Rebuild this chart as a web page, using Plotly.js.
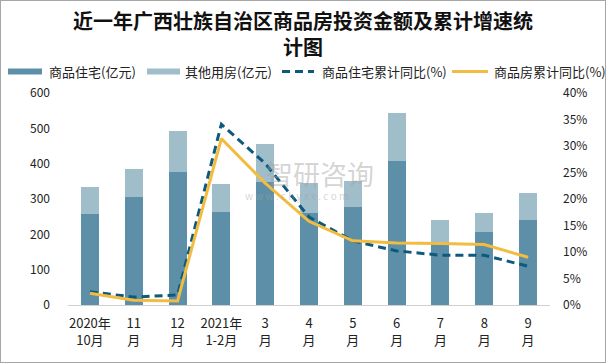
<!DOCTYPE html>
<html>
<head>
<meta charset="utf-8">
<script src="https://cdn.plot.ly/plotly-3.0.1.min.js"></script>
<style>
html,body{margin:0;padding:0;background:#fff;}
#wrap{position:relative;width:606px;height:363px;}
#chart{width:606px;height:363px;}
#frame{position:absolute;left:0;top:0;width:604px;height:361px;border:1px solid #a6a6a6;pointer-events:none;}
</style>
</head>
<body>
<div id="wrap"><div id="chart"></div><div id="frame"></div></div>
<script>
var categories = ["2020年<br>10月","11<br>月","12<br>月","2021年<br>1-2月","3<br>月","4<br>月","5<br>月","6<br>月","7<br>月","8<br>月","9<br>月"];
var residential = [257, 305, 376, 263, 349, 261, 277, 407, 176, 206, 240];
var otherUse = [76, 79, 116, 79, 106, 85, 73, 136, 64, 54, 77];
var residentialGrowth = [2.5, 1.5, 1.9, 34.1, 26.7, 16.6, 12.1, 10.2, 9.4, 9.4, 7.3];
var totalGrowth = [2.2, 0.9, 0.75, 31.4, 23.0, 15.8, 12.1, 11.7, 11.6, 11.4, 9.0];
var seriesNames = ['商品住宅(亿元)', '其他用房(亿元)', '商品住宅累计同比(%)', '商品房累计同比(%)'];
var leftTicks = [0,100,200,300,400,500,600];
var rightTicks = [0,5,10,15,20,25,30,35,40];

var colors = ['#5d90a8', '#a0bdca', '#0c5a7c', '#f2bc40'];
var font = "'Noto Sans CJK SC','Noto Sans',sans-serif";

// plot area geometry (pixels) for placing the hand-made legend
var L = 68, R = 550, T = 93, B = 305;
function px(p){ return (p - L) / (R - L); }
function py(p){ return (B - p) / (B - T); }

var traces = [
  {type:'bar', name:seriesNames[0], x:categories, y:residential, marker:{color:colors[0]}, width:0.41},
  {type:'bar', name:seriesNames[1], x:categories, y:otherUse, marker:{color:colors[1]}, width:0.41},
  {type:'scatter', mode:'lines', name:seriesNames[2], x:categories, y:residentialGrowth, yaxis:'y2',
   line:{color:colors[2], width:3, dash:'8px,5px'}},
  {type:'scatter', mode:'lines', name:seriesNames[3], x:categories, y:totalGrowth, yaxis:'y2',
   line:{color:colors[3], width:3}}
];

// legend (drawn manually to match the wide swatches of the reference)
var legendItems = [
  {kind:'bar',  x0:8,   x1:42,  tx:47},
  {kind:'bar',  x0:147, x1:180, tx:183},
  {kind:'dash', x0:282, x1:314, tx:320},
  {kind:'line', x0:452, x1:488, tx:492}
];
var legY = 71.5;
var shapes = [], annotations = [];
legendItems.forEach(function(it, i){
  if (it.kind === 'bar') {
    shapes.push({type:'rect', xref:'paper', yref:'paper', x0:px(it.x0), x1:px(it.x1), y0:py(legY+3), y1:py(legY-3),
      fillcolor:colors[i], line:{width:0}});
  } else {
    shapes.push({type:'line', xref:'paper', yref:'paper', x0:px(it.x0), x1:px(it.x1), y0:py(legY), y1:py(legY),
      line:{color:colors[i], width:3, dash: it.kind === 'dash' ? '8px,5px' : 'solid'}});
  }
  annotations.push({text:seriesNames[i], xref:'paper', yref:'paper', x:px(it.tx), y:py(legY), xanchor:'left', yanchor:'middle',
    showarrow:false, font:{size:13, color:'#222'}});
});
annotations.push({text:'智研咨询', xref:'paper', yref:'paper', x:px(320), y:py(173), showarrow:false,
  font:{size:27, color:'rgba(160,160,160,0.45)'}});
annotations.push({text:'w w w . c h y x x . c o m', xref:'paper', yref:'paper', x:px(296), y:py(195), showarrow:false,
  font:{size:10, color:'rgba(160,160,160,0.45)'}});

var layout = {
  width:606, height:363,
  margin:{l:L, r:606-R, t:T, b:363-B},
  barmode:'stack',
  paper_bgcolor:'#fff', plot_bgcolor:'#fff',
  font:{family:font, size:12, color:'#222'},
  title:{text:'<b>近一年广西壮族自治区商品房投资金额及累计增速统<br>计图</b>', x:0.5, xanchor:'center', y:0.92, yanchor:'top',
    font:{family:font, size:20, color:'#111'}},
  showlegend:false,
  xaxis:{type:'category', showline:true, linecolor:'#d0d0d0', linewidth:1, ticks:'', tickfont:{size:13}, showgrid:false,
    ticklabelstandoff:6},
  yaxis:{range:[0,600], tickvals:leftTicks, showgrid:false, zeroline:false, showline:false, ticks:'', tickfont:{size:12}, ticklabelstandoff:17},
  yaxis2:{range:[0,40], overlaying:'y', side:'right', tickvals:rightTicks, ticktext:rightTicks.map(function(v){return v+'%';}),
    showgrid:false, zeroline:false, showline:false, ticks:'', tickfont:{size:12}, ticklabelstandoff:12},
  shapes:shapes,
  annotations:annotations
};
Plotly.newPlot('chart', traces, layout, {displayModeBar:false, staticPlot:true});
</script>
</body>
</html>
